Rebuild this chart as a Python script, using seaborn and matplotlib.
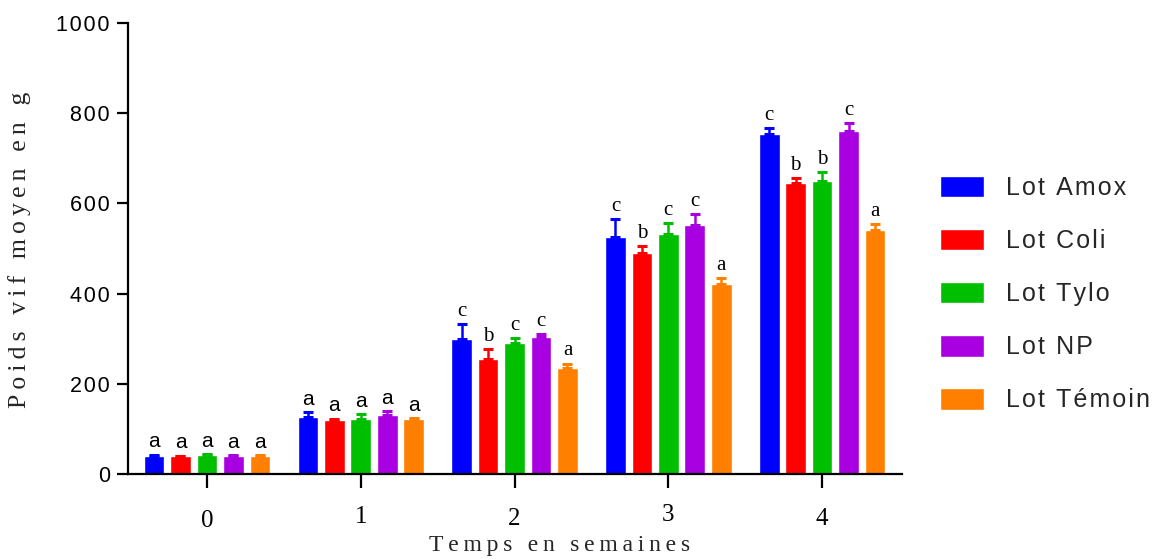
import numpy as np
import pandas as pd
import matplotlib
matplotlib.use("Agg")
import matplotlib.pyplot as plt
import matplotlib.transforms as mtransforms
import seaborn as sns

# Weeks and treatment groups
weeks = ["0", "1", "2", "3", "4"]
lots = ["Lot Amox", "Lot Coli", "Lot Tylo", "Lot NP", "Lot Témoin"]

# Mean live weight (g) per lot and week
amox   = [41, 127, 299, 525, 754]
coli   = [39, 120, 254, 491, 646]
tylo   = [43, 123, 291, 532, 650]
np_lot = [40, 130, 304, 553, 761]
temoin = [40, 121, 234, 421, 540]

# Standard errors (upper bars only)
amox_se   = [2, 10, 33, 40, 13]
coli_se   = [2, 3, 23, 15, 10]
tylo_se   = [2, 10, 10, 25, 20]
np_se     = [2, 10, 6, 23, 17]
temoin_se = [2, 3, 11, 14, 14]

# Significance letters
amox_l   = ["a", "a", "c", "c", "c"]
coli_l   = ["a", "a", "b", "b", "b"]
tylo_l   = ["a", "a", "c", "c", "b"]
np_l     = ["a", "a", "c", "c", "c"]
temoin_l = ["a", "a", "a", "a", "a"]

yticks = [0, 200, 400, 600, 800, 1000]

colors = ["#0000FF", "#FF0000", "#00BF00", "#A800E0", "#FF8000"]

means = [amox, coli, tylo, np_lot, temoin]
ses = [amox_se, coli_se, tylo_se, np_se, temoin_se]
letters = [amox_l, coli_l, tylo_l, np_l, temoin_l]

THIN = "\u2009"
HAIR = "\u200a"


def spaced(s, sep=THIN):
    """Widen the tracking of a label with narrow spaces between characters."""
    return sep.join(s)


df = pd.DataFrame({
    "Semaine": np.tile(weeks, len(lots)),
    "Lot": np.repeat(lots, len(weeks)),
    "Poids": np.concatenate(means),
})

sns.set_style("white")
plt.rcParams["font.family"] = ["Liberation Sans", "DejaVu Sans"]

fig = plt.figure(figsize=(11.64, 5.59), dpi=100)
ax = fig.add_axes([0.110, 0.152, 0.665, 0.807])

sns.barplot(data=df, x="Semaine", y="Poids", hue="Lot", order=weeks,
            hue_order=lots, palette=colors, width=0.86, gap=0.22,
            errorbar=None, saturation=1, ax=ax, legend=True)

serif = ["Liberation Serif", "DejaVu Serif"]
sans = ["Liberation Sans", "DejaVu Sans"]

bar_groups = list(ax.containers)
for i, cont in enumerate(bar_groups):
    xs = [b.get_x() + b.get_width() / 2 for b in cont]
    hs = [b.get_height() for b in cont]
    err = np.vstack([np.zeros(len(ses[i])), ses[i]])
    ax.errorbar(xs, hs, yerr=err, fmt="none", ecolor=colors[i],
                elinewidth=1.8, capsize=3.8, capthick=2.2, zorder=3)
    for j, (x, h) in enumerate(zip(xs, hs)):
        fam = sans if j < 2 else serif
        ax.text(x, h + ses[i][j] + 7, letters[i][j], ha="center", va="bottom",
                fontsize=15, family=fam, color="black")

ax.set_ylim(0, 1000)
ax.set_xlim(-0.513, 4.52)
ax.set_yticks(yticks)
ax.set_yticklabels([spaced(str(v), HAIR) for v in yticks], fontsize=15.5,
                   family=sans)
ax.set_xticks(range(len(weeks)))
ax.set_xticklabels(weeks, fontsize=18, family=serif)

for side in ["top", "right"]:
    ax.spines[side].set_visible(False)
for side in ["left", "bottom"]:
    ax.spines[side].set_linewidth(1.6)
    ax.spines[side].set_color("black")

ax.tick_params(axis="y", direction="out", length=8, width=1.6, pad=5,
               left=True, colors="black")
ax.tick_params(axis="x", direction="out", length=10, width=1.6, pad=13,
               bottom=True, colors="black")

# slight vertical stagger of week labels
shifts = [-4, 0, -2, 2, -2]
for lab, dy in zip(ax.get_xticklabels(), shifts):
    off = mtransforms.ScaledTranslation(0, dy / 100, fig.dpi_scale_trans)
    lab.set_transform(lab.get_transform() + off)

ax.set_xlabel(spaced("Temps en semaines"), fontsize=17, family=serif)
ax.xaxis.set_label_coords(0.558, -0.135)
ax.set_ylabel(spaced("Poids vif moyen en g"), fontsize=18.5, family=serif)
ax.yaxis.set_label_coords(-0.125, 0.497)

handles, labels = ax.get_legend_handles_labels()
ax.legend_.remove()
fig.legend(handles, [spaced(l, HAIR) for l in labels], loc="center left",
           bbox_to_anchor=(940 / 1164, 1 - 294 / 559),
           bbox_transform=fig.transFigure, frameon=False,
           fontsize=18, handlelength=1.75, handleheight=0.95,
           handletextpad=0.9, labelspacing=1.15, borderpad=0,
           borderaxespad=0)

fig.savefig("out.png", dpi=100)
